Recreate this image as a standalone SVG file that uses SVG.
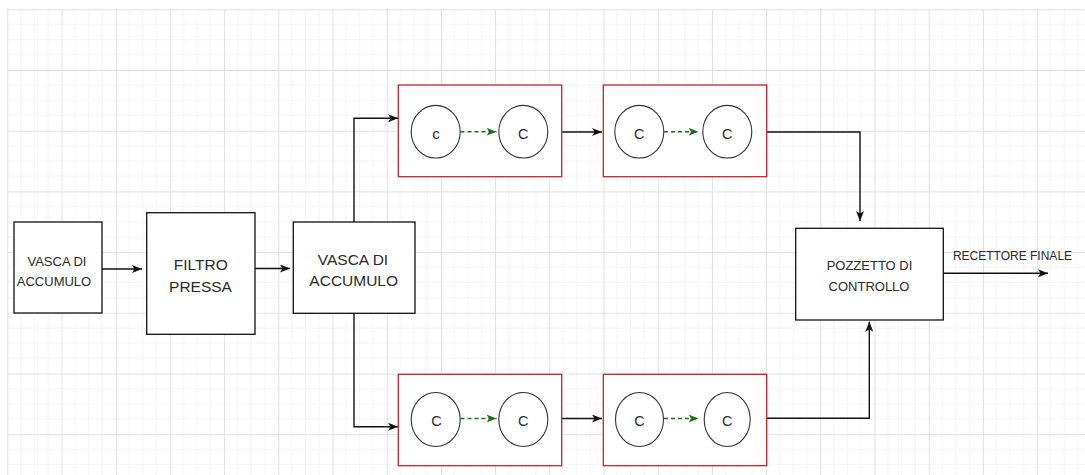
<svg xmlns="http://www.w3.org/2000/svg" width="1085" height="475" viewBox="0 0 1085 475">
<style>
.box{fill:#fff;stroke:#111;stroke-width:1.3}
.red{fill:#fff;stroke:#d0202a;stroke-width:1.3}
.circ{fill:#fff;stroke:#333;stroke-width:1.1}
.t{font-family:"Liberation Sans",Arial,sans-serif;fill:#2a2a2a;text-anchor:middle}
.w{fill:none;stroke:#111;stroke-width:1.4}
.g{fill:none;stroke:#1e6e1e;stroke-width:1.5;stroke-dasharray:4 3}
</style>
<defs>
<pattern id="grid" patternUnits="userSpaceOnUse" x="7.3" y="9.3" width="54.2" height="60.7">
<path d="M13.55 0V60.7M27.1 0V60.7M40.65 0V60.7M0 15.18H54.2M0 30.35H54.2M0 45.53H54.2" stroke="#f4f4f4" stroke-width="1" fill="none"/>
<path d="M0.5 0V60.7M0 0.5H54.2" stroke="#e0e0e0" stroke-width="1" fill="none"/>
</pattern>
<marker id="ah" viewBox="0 0 10 8" refX="10" refY="4" markerWidth="10" markerHeight="8" markerUnits="userSpaceOnUse" orient="auto">
<path d="M0,0 L10,4 L0,8 L2.5,4 Z" fill="#111"/>
</marker>
<marker id="ag" viewBox="0 0 10 8" refX="10" refY="4" markerWidth="10" markerHeight="9" markerUnits="userSpaceOnUse" orient="auto">
<path d="M0,0 L10,4 L0,8 L2.5,4 Z" fill="#1e6e1e"/>
</marker>
</defs>
<rect width="1085" height="475" fill="#fff"/>
<rect x="7" y="9" width="1078" height="466" fill="url(#grid)"/>

<g id="connectors">
<path class="w" d="M102,269H142" marker-end="url(#ah)"/>
<path class="w" d="M255,268.5H290" marker-end="url(#ah)"/>
<path class="w" d="M354,222V118.3H398" marker-end="url(#ah)"/>
<path class="w" d="M354,313.3V426.7H398" marker-end="url(#ah)"/>
<path class="w" d="M561.7,132H602" marker-end="url(#ah)"/>
<path class="w" d="M751.8,132H860V221" marker-end="url(#ah)"/>
<path class="w" d="M561.7,418.5H602" marker-end="url(#ah)"/>
<path class="w" d="M766.7,418.3H869.3V321.7" marker-end="url(#ah)"/>
<path class="w" d="M943.3,273.3H1048" marker-end="url(#ah)"/>
</g>

<g id="vasca1">
<rect class="box" x="14" y="222" width="88" height="91"/>
<text class="t" x="57" y="266" font-size="13">VASCA DI</text>
<text class="t" x="54" y="286" font-size="13">ACCUMULO</text>
</g>
<g id="filtro">
<rect class="box" x="146.7" y="212.7" width="108.3" height="121.6"/>
<text class="t" x="200.8" y="270" font-size="15.5">FILTRO</text>
<text class="t" x="200.5" y="291.5" font-size="15.5">PRESSA</text>
</g>
<g id="vasca2">
<rect class="box" x="293.3" y="222" width="121.7" height="91.3"/>
<text class="t" x="353" y="265" font-size="15.5">VASCA DI</text>
<text class="t" x="353.7" y="286" font-size="15.5">ACCUMULO</text>
</g>

<g id="top1">
<rect class="red" x="398.3" y="85" width="163.4" height="91.7"/>
<ellipse class="circ" cx="435.7" cy="131.7" rx="24.5" ry="26.3"/>
<ellipse class="circ" cx="523.3" cy="131.7" rx="24.5" ry="26.3"/>
<path class="g" d="M460.5,131.7H496.5" marker-end="url(#ag)"/>
<text class="t" x="436" y="138.5" font-size="15">c</text>
<text class="t" x="523.3" y="139" font-size="14.5">C</text>
</g>
<g id="top2">
<rect class="red" x="603.3" y="85" width="163.4" height="91.7"/>
<ellipse class="circ" cx="639.3" cy="131.7" rx="24.5" ry="26.3"/>
<ellipse class="circ" cx="727.3" cy="131.7" rx="24.5" ry="26.3"/>
<path class="g" d="M664,131.7H698.5" marker-end="url(#ag)"/>
<text class="t" x="639.3" y="139" font-size="14.5">C</text>
<text class="t" x="727.3" y="139" font-size="14.5">C</text>
</g>
<g id="bot1">
<rect class="red" x="398.3" y="374.3" width="163.4" height="91.4"/>
<ellipse class="circ" cx="435.7" cy="419.5" rx="24.5" ry="27"/>
<ellipse class="circ" cx="523.3" cy="419.5" rx="24.5" ry="27"/>
<path class="g" d="M460.5,418.5H496.5" marker-end="url(#ag)"/>
<text class="t" x="436.5" y="426" font-size="14.5">C</text>
<text class="t" x="523.3" y="426" font-size="14.5">C</text>
</g>
<g id="bot2">
<rect class="red" x="603.3" y="374.3" width="163.4" height="91.4"/>
<ellipse class="circ" cx="639.5" cy="419.5" rx="24" ry="27"/>
<ellipse class="circ" cx="727.2" cy="419.5" rx="23" ry="27"/>
<path class="g" d="M664,418.5H698.5" marker-end="url(#ag)"/>
<text class="t" x="639.5" y="426" font-size="14.5">C</text>
<text class="t" x="727.2" y="426" font-size="14.5">C</text>
</g>

<g id="pozzetto">
<rect class="box" x="795.7" y="228.3" width="147.6" height="91.7"/>
<text class="t" x="869.5" y="270" font-size="13">POZZETTO DI</text>
<text class="t" x="869" y="290.5" font-size="13">CONTROLLO</text>
</g>
<g id="recettore-label">
<text class="t" x="1012.5" y="260" font-size="12">RECETTORE FINALE</text>
</g>
</svg>
